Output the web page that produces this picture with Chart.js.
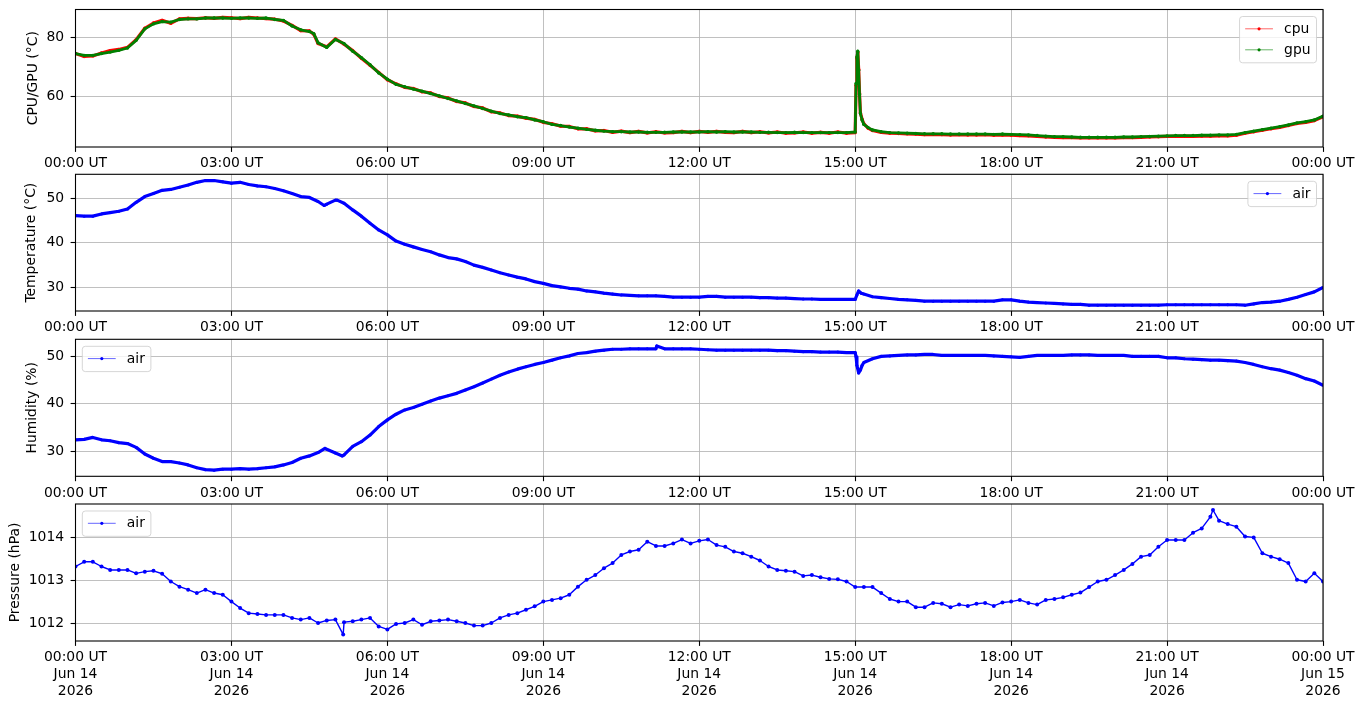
<!DOCTYPE html>
<html>
<head>
<meta charset="utf-8">
<title>Sensor log</title>
<script src="https://cdn.jsdelivr.net/npm/chart.js@4.4.1/dist/chart.umd.min.js"></script>
<style>
  html, body { margin: 0; padding: 0; background: #fff; }
  #wrap { position: relative; width: 1364px; height: 707px; overflow: hidden; }
  #wrap canvas { position: absolute; left: 0; }
</style>
</head>
<body>
<div id="wrap">
  <canvas id="cpuChart" width="1364" height="175" style="top:0px"></canvas>
  <canvas id="tempChart" width="1364" height="174" style="top:165px"></canvas>
  <canvas id="humChart" width="1364" height="174" style="top:330px"></canvas>
  <canvas id="presChart" width="1364" height="213" style="top:494px"></canvas>
</div>
<script>
// --- Data (one value every 10 minutes, one row per hour, 00:00 -> 24:00) ---

const gpuTemp = [
  74.6, 74.0, 74.0, 74.6, 75.1, 75.7,
  76.5, 79.1, 83.0, 84.7, 85.5, 85.3,
  86.2, 86.4, 86.4, 86.7, 86.7, 86.7,
  86.6, 86.7, 86.7, 86.6, 86.7, 86.2,
  85.9, 84.0, 82.7, 82.1, 78.3, 76.7,
  79.4, 78.0, 75.4, 73.2, 70.8, 68.0,
  65.9, 64.1, 63.3, 62.5, 61.8, 61.0,
  60.2, 59.3, 58.5, 57.6, 56.8, 55.9,
  55.0, 54.2, 53.7, 53.1, 52.8, 52.0,
  51.4, 50.5, 50.1, 49.6, 49.2, 48.8,
  48.5, 48.2, 48.0, 48.0, 47.9, 47.9,
  47.8, 47.8, 47.8, 47.9, 47.9, 47.9,
  47.9, 48.0, 47.9, 48.0, 47.9, 47.9,
  47.9, 47.8, 47.8, 47.7, 47.7, 47.8,
  47.7, 47.7, 47.7, 47.7, 47.7, 47.7,
  47.9, 50.5, 48.6, 48.0, 47.7, 47.6,
  47.5, 47.4, 47.3, 47.3, 47.3, 47.2,
  47.2, 47.2, 47.2, 47.2, 47.1, 47.2,
  47.1, 47.0, 46.9, 46.7, 46.5, 46.3,
  46.3, 46.2, 46.1, 46.1, 46.1, 46.1,
  46.1, 46.2, 46.2, 46.3, 46.4, 46.5,
  46.6, 46.7, 46.7, 46.7, 46.8, 46.8,
  46.9, 46.9, 47.1, 47.7, 48.2, 48.7,
  49.2, 49.7, 50.3, 51.0, 51.4, 52.0,
  53.3
];
const cpuTemp = [
  74.6, 73.6, 73.8, 74.8, 75.6, 76.0,
  76.7, 79.3, 83.2, 85.0, 85.9, 84.9,
  86.4, 86.6, 86.5, 86.8, 86.6, 86.9,
  86.8, 86.5, 86.9, 86.7, 86.5, 86.3,
  85.7, 84.2, 82.4, 82.3, 78.0, 76.9,
  79.6, 77.8, 75.6, 73.0, 70.6, 68.2,
  65.7, 64.3, 63.1, 62.7, 61.6, 61.2,
  60.0, 59.5, 58.3, 57.8, 56.6, 56.1,
  54.8, 54.4, 53.5, 53.3, 52.6, 52.2,
  51.2, 50.7, 49.9, 49.8, 49.0, 49.0,
  48.3, 48.4, 47.8, 48.2, 47.7, 48.1,
  47.6, 48.0, 47.6, 47.7, 48.1, 47.7,
  48.1, 47.8, 48.1, 47.8, 47.7, 48.1,
  47.7, 48.0, 47.6, 47.9, 47.5, 47.6,
  47.9, 47.5, 47.8, 47.5, 47.9, 47.5,
  47.7, 50.7, 48.4, 47.8, 47.5, 47.4,
  47.3, 47.2, 47.0, 47.1, 47.0, 46.9,
  47.0, 46.9, 46.9, 47.0, 46.8, 46.9,
  46.8, 46.7, 46.6, 46.4, 46.2, 46.1,
  46.0, 46.0, 45.9, 45.9, 45.9, 45.9,
  45.9, 46.0, 46.0, 46.1, 46.2, 46.3,
  46.4, 46.4, 46.5, 46.4, 46.5, 46.5,
  46.6, 46.6, 46.8, 47.5, 48.0, 48.5,
  49.0, 49.5, 50.1, 50.8, 51.2, 51.8,
  53.1
];
// extra readings off the 10-minute grid (the 15:00 spike, the 04:35 drop)
const procExtraMin = [275, 901, 902, 903, 904, 905, 906, 908, 915];
const gpuExtra = [81.4, 64.4, 73.4, 75.4, 68.9, 60.7, 54.2, 52.0, 49.4];
const cpuExtra = [81.2, 63.8, 73.0, 75.0, 69.3, 61.0, 54.5, 52.2, 49.2];

const airTemp = [
  46.1, 46.0, 46.0, 46.5, 46.8, 47.1,
  47.6, 49.1, 50.4, 51.1, 51.8, 52.0,
  52.5, 53.0, 53.6, 54.0, 54.0, 53.7,
  53.4, 53.6, 53.1, 52.8, 52.6, 52.2,
  51.7, 51.1, 50.4, 50.2, 49.3, 48.7,
  49.6, 48.9, 47.4, 46.0, 44.4, 42.9,
  41.8, 40.4, 39.7, 39.1, 38.5, 38.0,
  37.3, 36.7, 36.4, 35.8, 35.0, 34.5,
  33.9, 33.3, 32.8, 32.3, 31.9, 31.3,
  30.9, 30.4, 30.1, 29.8, 29.6, 29.2,
  29.0, 28.7, 28.5, 28.3, 28.2, 28.1,
  28.1, 28.1, 28.0, 27.8, 27.8, 27.8,
  27.8, 28.0, 28.0, 27.8, 27.8, 27.8,
  27.8, 27.7, 27.7, 27.6, 27.6, 27.5,
  27.4, 27.4, 27.3, 27.3, 27.3, 27.3,
  27.3, 28.5, 27.9, 27.7, 27.5, 27.3,
  27.2, 27.1, 26.9, 26.9, 26.9, 26.9,
  26.9, 26.9, 26.9, 26.9, 26.9, 27.2,
  27.2, 26.9, 26.7, 26.6, 26.5, 26.4,
  26.3, 26.2, 26.2, 26.0, 26.0, 26.0,
  26.0, 26.0, 26.0, 26.0, 26.0, 26.0,
  26.1, 26.1, 26.1, 26.1, 26.1, 26.1,
  26.1, 26.1, 26.1, 26.0, 26.3, 26.6,
  26.7, 26.9, 27.3, 27.8, 28.4, 29.0,
  30.0
];
const airTempExtraMin = [287, 302, 902, 904, 907];
const airTempExtra = [48.4, 49.6, 28.3, 29.2, 28.7];

const humidity = [
  32.4, 32.5, 32.9, 32.4, 32.2, 31.8,
  31.6, 30.8, 29.4, 28.5, 27.8, 27.8,
  27.5, 27.1, 26.5, 26.1, 26.0, 26.2,
  26.2, 26.3, 26.2, 26.3, 26.5, 26.7,
  27.1, 27.6, 28.5, 29.0, 29.7, 30.4,
  29.6, 29.2, 31.0, 32.0, 33.4, 35.2,
  36.6, 37.8, 38.7, 39.2, 39.9, 40.6,
  41.2, 41.7, 42.2, 42.9, 43.6, 44.4,
  45.2, 46.0, 46.7, 47.3, 47.8, 48.3,
  48.7, 49.2, 49.7, 50.1, 50.6, 50.8,
  51.1, 51.3, 51.5, 51.5, 51.6, 51.6,
  51.6, 51.6, 51.6, 51.6, 51.6, 51.6,
  51.5, 51.4, 51.3, 51.3, 51.3, 51.3,
  51.3, 51.3, 51.3, 51.2, 51.2, 51.1,
  51.0, 51.0, 50.9, 50.9, 50.9, 50.8,
  50.8, 48.7, 49.5, 50.0, 50.1, 50.2,
  50.3, 50.3, 50.4, 50.4, 50.2, 50.2,
  50.2, 50.2, 50.2, 50.2, 50.1, 50.0,
  49.9, 49.8, 50.0, 50.2, 50.2, 50.2,
  50.2, 50.3, 50.3, 50.3, 50.2, 50.2,
  50.2, 50.2, 50.0, 50.0, 50.0, 50.0,
  49.7, 49.7, 49.5, 49.4, 49.3, 49.2,
  49.2, 49.1, 49.0, 48.7, 48.3, 47.8,
  47.4, 47.1, 46.6, 46.0, 45.3, 44.8,
  43.9
];
const humidityExtraMin = [288, 308, 671, 901, 902, 904, 906, 908];
const humidityExtra = [30.6, 29.0, 52.2, 49.9, 48.1, 46.5, 47.1, 48.1];

const pressure = [
  1013.32, 1013.43, 1013.43, 1013.32, 1013.24, 1013.24,
  1013.24, 1013.16, 1013.20, 1013.22, 1013.15, 1012.97,
  1012.85, 1012.78, 1012.70, 1012.78, 1012.70, 1012.66,
  1012.50, 1012.35, 1012.23, 1012.21, 1012.19, 1012.19,
  1012.19, 1012.12, 1012.08, 1012.12, 1012.00, 1012.06,
  1012.08, 1012.02, 1012.04, 1012.08, 1012.12, 1011.92,
  1011.85, 1011.98, 1012.00, 1012.08, 1011.96, 1012.04,
  1012.06, 1012.08, 1012.04, 1012.00, 1011.94, 1011.94,
  1012.00, 1012.12, 1012.19, 1012.23, 1012.31, 1012.39,
  1012.50, 1012.54, 1012.58, 1012.66, 1012.85, 1013.01,
  1013.12, 1013.28, 1013.40, 1013.59, 1013.67, 1013.71,
  1013.90, 1013.80, 1013.80, 1013.86, 1013.95, 1013.86,
  1013.92, 1013.95, 1013.82, 1013.78, 1013.67, 1013.63,
  1013.55, 1013.46, 1013.32, 1013.24, 1013.22, 1013.20,
  1013.10, 1013.12, 1013.07, 1013.03, 1013.02, 1012.97,
  1012.84, 1012.84, 1012.84, 1012.70, 1012.56, 1012.50,
  1012.50, 1012.37, 1012.37, 1012.47, 1012.45, 1012.37,
  1012.43, 1012.40, 1012.45, 1012.47, 1012.40, 1012.48,
  1012.50, 1012.54, 1012.47, 1012.43, 1012.54, 1012.56,
  1012.60, 1012.66, 1012.71, 1012.84, 1012.97, 1013.01,
  1013.12, 1013.24, 1013.38, 1013.55, 1013.59, 1013.78,
  1013.94, 1013.94, 1013.94, 1014.11, 1014.21, 1014.48,
  1014.39, 1014.31, 1014.25, 1014.02, 1014.00, 1013.63,
  1013.55, 1013.49, 1013.40, 1013.01, 1012.97, 1013.16,
  1012.97
];
const pressureExtraMin = [309, 1313];
const pressureExtra = [1011.73, 1014.64];

// --- Axis ticks ---
const tickMinutes = [0, 180, 360, 540, 720, 900, 1080, 1260, 1440];
const timeLabels = ['00:00 UT', '03:00 UT', '06:00 UT', '09:00 UT', '12:00 UT',
                    '15:00 UT', '18:00 UT', '21:00 UT', '00:00 UT'];
const dayLabels = ['Jun 14', 'Jun 14', 'Jun 14', 'Jun 14', 'Jun 14',
                   'Jun 14', 'Jun 14', 'Jun 14', 'Jun 15'];
const yearLabels = ['2026', '2026', '2026', '2026', '2026', '2026', '2026', '2026', '2026'];

const cpuTicks = [60, 80];
const tempTicks = [30, 40, 50];
const humTicks = [30, 40, 50];
const presTicks = [1012, 1013, 1014];

// --- Shared styling ---
const FONT_PX = 13.9;
const GRID = '#b0b0b0';
Chart.defaults.font.family = '"DejaVu Sans", sans-serif';
Chart.defaults.font.size = FONT_PX;
Chart.defaults.color = '#000';

// merge the 10-minute readings with the extra ones, sorted by time
function series(base, extraMin, extraVal) {
  const pts = base.map((v, i) => ({ x: i * 10, y: v }));
  extraMin.forEach((m, i) => pts.push({ x: m, y: extraVal[i] }));
  return pts.sort((a, b) => a.x - b.x);
}

// fixed axis boxes so the plot areas land where the original ones are
function noPad(s) {
  s.paddingTop = 0; s.paddingBottom = 0; s.paddingLeft = 0; s.paddingRight = 0;
}

function xAxis(withDate, height) {
  return {
    type: 'linear', min: 0, max: 1440,
    afterBuildTicks: s => { s.ticks = tickMinutes.map(v => ({ value: v })); },
    afterFit: s => { s.height = height; noPad(s); },
    grid: { color: GRID, lineWidth: 0.8, tickColor: '#000', tickLength: 4.9, tickWidth: 1.1 },
    border: { display: false },
    ticks: {
      padding: 3.5, autoSkip: false, maxRotation: 0, minRotation: 0,
      font: { size: FONT_PX, lineHeight: 1.2 },
      callback: (v, i) => withDate ? [timeLabels[i], dayLabels[i], yearLabels[i]] : timeLabels[i]
    }
  };
}

function yAxis(min, max, ticks, title, titlePad) {
  return {
    type: 'linear', min, max,
    afterBuildTicks: s => { s.ticks = ticks.map(v => ({ value: v })); },
    afterFit: s => { s.width = 75.5; noPad(s); },
    grid: { color: GRID, lineWidth: 0.8, tickColor: '#000', tickLength: 4.9, tickWidth: 1.1 },
    border: { display: false },
    ticks: { padding: 6.5, callback: v => String(v) },
    title: { display: true, text: title, padding: { top: titlePad, bottom: 0 },
             font: { size: FONT_PX, lineHeight: 1.2 } }
  };
}

function lineSet(label, data, color, width, radius, order) {
  return {
    label, data, order,
    borderColor: color, backgroundColor: color,
    borderWidth: width, borderJoinStyle: 'round', tension: 0,
    pointRadius: radius, pointBorderWidth: 0, pointBackgroundColor: color,
    pointHoverRadius: 0, clip: 0
  };
}

// frame + matplotlib-like legend box
const mplDecor = {
  id: 'mplDecor',
  afterDatasetsDraw(chart, args, opts) {
    const ctx = chart.ctx, a = chart.chartArea;
    ctx.save();
    ctx.strokeStyle = '#000';
    ctx.lineWidth = 1.1;
    ctx.strokeRect(a.left, a.top, a.right - a.left, a.bottom - a.top);

    const sets = chart.data.datasets;
    ctx.font = FONT_PX + 'px "DejaVu Sans"';
    const textW = Math.max(...sets.map(d => ctx.measureText(d.label).width));
    const w = 5.6 + 27.8 + 11.1 + textW + 6;
    const h = 4.3 + sets.length * 21;
    const x = opts.side === 'right' ? a.right - 6.5 - w : a.left + 6.8;
    const y = a.top + 7;
    ctx.fillStyle = 'rgba(255,255,255,0.8)';
    ctx.strokeStyle = 'rgba(204,204,204,0.8)';
    ctx.lineWidth = 1;
    ctx.beginPath();
    ctx.roundRect(x, y, w, h, 3);
    ctx.fill();
    ctx.stroke();

    sets.forEach((d, i) => {
      const cy = y + 12.3 + i * 21;
      const lx = x + 5.6;
      ctx.globalAlpha = 0.6;
      ctx.strokeStyle = d.borderColor;
      ctx.lineWidth = 1;
      ctx.beginPath();
      ctx.moveTo(lx, cy);
      ctx.lineTo(lx + 27.8, cy);
      ctx.stroke();
      ctx.globalAlpha = 1;
      ctx.fillStyle = d.borderColor;
      ctx.beginPath();
      ctx.arc(lx + 13.9, cy, 1.6, 0, Math.PI * 2);
      ctx.fill();
      ctx.fillStyle = '#000';
      ctx.textBaseline = 'middle';
      ctx.textAlign = 'left';
      ctx.fillText(d.label, lx + 27.8 + 11.1, cy + 0.5);
    });
    ctx.restore();
  }
};

function makeChart(id, datasets, padTop, xHeight, withDate, y, side) {
  return new Chart(document.getElementById(id), {
    type: 'line',
    data: { datasets },
    options: {
      responsive: false,
      animation: false,
      events: [],
      layout: { padding: { top: padTop, right: 41, bottom: 0, left: 0 } },
      scales: { x: xAxis(withDate, xHeight), y },
      plugins: { legend: { display: false }, tooltip: { enabled: false }, mplDecor: { side } }
    },
    plugins: [mplDecor]
  });
}

// --- Chart 1: CPU / GPU ---
makeChart('cpuChart', [
  lineSet('cpu', series(cpuTemp, procExtraMin, cpuExtra), '#ff0000', 3.2, 1.7, 1),
  lineSet('gpu', series(gpuTemp, procExtraMin, gpuExtra), '#008000', 2.8, 1.7, 0)
], 9.5, 28, false, yAxis(42.8, 89.6, cpuTicks, 'CPU/GPU (°C)', 25.2), 'right');

// --- Chart 2: air temperature ---
makeChart('tempChart', [
  lineSet('air', series(airTemp, airTempExtraMin, airTempExtra), '#0000ff', 3.2, 1.5, 0)
], 9.3, 28, false, yAxis(24.7, 55.4, tempTicks, 'Temperature (°C)', 23.4), 'right');

// --- Chart 3: humidity ---
makeChart('humChart', [
  lineSet('air', series(humidity, humidityExtraMin, humidityExtra), '#0000ff', 3.2, 1.5, 0)
], 9.3, 27.7, false, yAxis(24.7, 53.6, humTicks, 'Humidity (%)', 24.2), 'left');

// --- Chart 4: pressure ---
makeChart('presChart', [
  lineSet('air', series(pressure, pressureExtraMin, pressureExtra), '#0000ff', 1.4, 2, 0)
], 10, 66, true, yAxis(1011.58, 1014.78, presTicks, 'Pressure (hPa)', 7.2), 'left');
</script>
</body>
</html>
